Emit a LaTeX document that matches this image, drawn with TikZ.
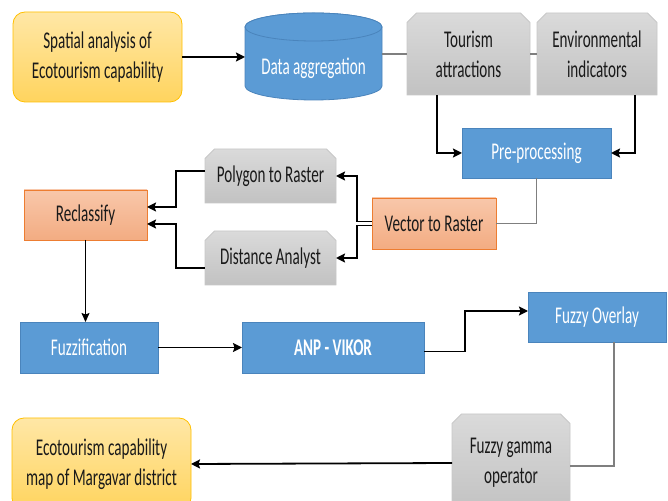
\documentclass[tikz,border=0pt]{standalone}
\usepackage{fontspec}
\setmainfont{Carlito}[FakeStretch=0.63]
\usetikzlibrary{arrows.meta,shapes.misc}
\definecolor{blueF}{HTML}{5B9BD5}
\definecolor{blueB}{HTML}{4A84BC}
\definecolor{grayT}{HTML}{DADADA}
\definecolor{grayBt}{HTML}{C2C2C2}
\definecolor{grayB}{HTML}{C8C8C8}
\definecolor{orT}{HTML}{F8C7AA}
\definecolor{orBt}{HTML}{F3AC82}
\definecolor{orB}{HTML}{ED7D31}
\definecolor{yeT}{HTML}{FFE7A6}
\definecolor{yeBt}{HTML}{FFD45E}
\definecolor{yeB}{HTML}{FFC000}
\definecolor{txt}{HTML}{1A1A1A}
\definecolor{lineG}{HTML}{7F7F7F}
\begin{document}
\begin{tikzpicture}[x=1pt,y=1pt,
  base/.style={inner sep=0pt, outer sep=0pt, align=center, font=\fontsize{24}{30}\selectfont, text=txt},
  bluebox/.style={base, rectangle, fill=blueF, draw=blueB, line width=0.8pt, text=white},
  graybox/.style={base, chamfered rectangle, chamfered rectangle corners={north west,north east},
     chamfered rectangle xsep=4pt, chamfered rectangle ysep=5.5pt,
     top color=grayT, bottom color=grayBt, draw=grayB, line width=0.8pt},
  orangebox/.style={base, rectangle, top color=orT, bottom color=orBt, draw=orB, line width=0.8pt},
  yellowbox/.style={base, rectangle, rounded corners=12pt, top color=yeT, bottom color=yeBt, draw=yeB, line width=0.8pt},
  arr/.style={line width=1.8pt, -{Stealth[length=9pt,width=9pt,inset=1.5pt]}},
  thinarr/.style={line width=1pt, -{Stealth[length=9pt,width=8pt,inset=1.5pt]}},
  gline/.style={line width=1.5pt, lineG}
]
\clip (0,0) rectangle (668,500);
\fill[white] (0,0) rectangle (668,500);

% cylinder
\node[minimum width=137, minimum height=87, inner sep=0pt, outer sep=0pt] (agg) at (313.5,443.5) {};
\filldraw[fill=blueF, draw=blueB, line width=0.8pt]
  (245,473) -- (245,414) arc[start angle=180, end angle=360, x radius=68.5, y radius=14]
  -- (382,473) arc[start angle=0, end angle=180, x radius=68.5, y radius=14] -- cycle;
\filldraw[fill=blueF, draw=blueB, line width=0.8pt] (313.5,473) ellipse[x radius=68.5, y radius=14];
\node[base, text=white] (aggtxt) at (313.5,432) {Data aggregation};

\node[yellowbox, minimum width=169, minimum height=90] (spatial) at (97.5,443) {Spatial analysis of\\Ecotourism capability};
\node[graybox, minimum width=123, minimum height=82] (tour) at (468.5,446) {Tourism\\attractions};
\node[graybox, minimum width=120, minimum height=82] (env) at (597,446) {Environmental\\indicators};
\node[bluebox, minimum width=149, minimum height=50] (pre) at (536.5,347) {Pre-processing};
\node[orangebox, minimum width=124, minimum height=51] (v2r) at (434,276.5) {Vector to Raster};
\node[graybox, minimum width=131, minimum height=54] (poly) at (270.5,324) {Polygon to Raster};
\node[graybox, minimum width=131, minimum height=54] (dist) at (270.5,242) {Distance Analyst};
\node[orangebox, minimum width=123, minimum height=50] (recl) at (85.5,285) {Reclassify};
\node[bluebox, minimum width=138, minimum height=51] (fuzz) at (89,152.5) {Fuzzification};
\node[bluebox, minimum width=182, minimum height=51, font=\fontsize{24}{30}\selectfont\bfseries] (anp) at (333,152.5) {ANP - VIKOR};
\node[bluebox, minimum width=138, minimum height=50] (fo) at (597,183) {Fuzzy Overlay};
\node[graybox, minimum width=118, minimum height=98] (gamma) at (511,37) {Fuzzy gamma\\operator};
\node[yellowbox, minimum width=179, minimum height=92] (map) at (101.5,36) {Ecotourism capability\\map of Margavar district};

% connectors
\draw[arr] (spatial.east) -- (spatial.east -| agg.west);
\draw[gline] (agg.east |- tour.west) -- (tour.west);
\draw[gline] (tour.east) -- (env.west);
\draw[arr] ([xshift=-31.5pt]tour.south) |- (pre.west);
\draw[arr] ([xshift=38pt]env.south) |- (pre.east);
\draw[gline] (pre.south) |- (v2r.east);
\draw[arr] ([yshift=2pt]v2r.west) -- ++(-15,0) |- (poly.east);
\draw[arr] ([yshift=-2pt]v2r.west) -- ++(-15,0) |- (dist.east);
\draw[arr] ([yshift=5pt]poly.west) -- ++(-29,0) |- ([yshift=8pt]recl.east);
\draw[arr] ([yshift=-10pt]dist.west) -- ++(-29,0) |- ([yshift=-9pt]recl.east);
\draw[thinarr] (recl.south) -- (recl.south |- fuzz.north);
\draw[arr] (fuzz.east) -- (anp.west);
\draw[arr] ([yshift=-4pt]anp.east) -- ++(41,0) |- ([yshift=6pt]fo.west);
\draw[gline] ([xshift=17pt]fo.south) |- ([yshift=-3pt]gamma.east);
\draw[arr] (gamma.west) -- (map.east);
\end{tikzpicture}
\end{document}
